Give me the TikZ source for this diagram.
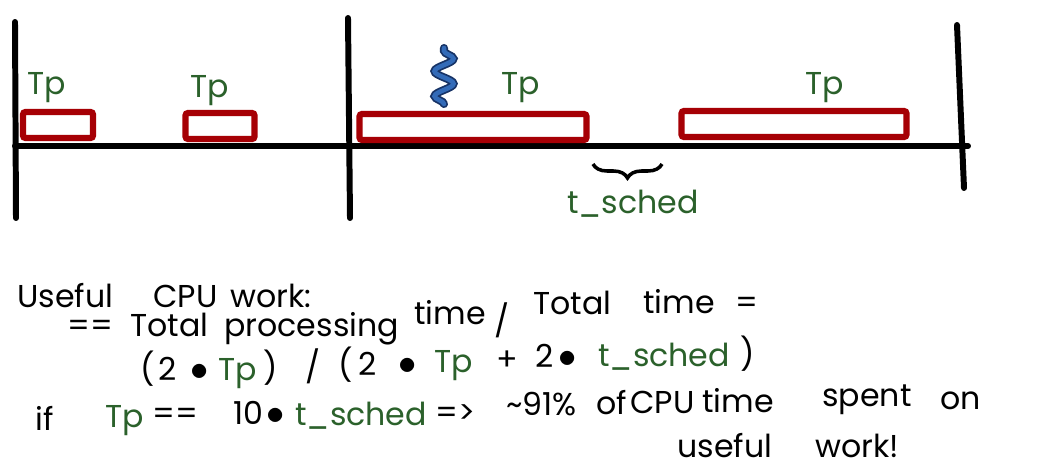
\documentclass[tikz,border=0pt]{standalone}
\usepackage{fontspec}
\setmainfont{Poppins}
\usetikzlibrary{decorations.pathmorphing,decorations.pathreplacing}
\definecolor{slotred}{rgb}{0.65,0.0,0.02}
\definecolor{tpgreen}{rgb}{0.17,0.38,0.17}
\definecolor{squigblue}{rgb}{0.20,0.42,0.72}
\definecolor{squigdark}{rgb}{0.09,0.20,0.40}

\begin{document}
\begin{tikzpicture}[x=0.02cm, y=-0.02cm,
      bar/.style={line width=3.4pt, line cap=round},
      slot/.style={draw=slotred, line width=3.6pt, rounded corners=1.5pt,
                   inner sep=0pt, minimum height=0.52cm},
      tplab/.style={text=tpgreen, inner sep=0pt,
                    font=\fontsize{18}{20}\selectfont},
      txt/.style={anchor=base west, inner sep=0pt,
                  font=\fontsize{18}{20}\selectfont},
      grn/.style={txt, text=tpgreen},
      dot/.style={txt, font=\fontsize{20}{22}\selectfont},
      squig/.style={draw=squigdark, line width=1pt, double=squigblue,
                    double distance=2.6pt, line cap=round, decorate,
                    decoration={snake, segment length=0.5cm, amplitude=0.19cm}},
      brc/.style={line width=2pt, decorate,
                  decoration={brace, mirror, amplitude=0.28cm}}
  ]
    \path[fill=white] (0,0) rectangle (1052,474);
    \useasboundingbox (0,0) rectangle (1052,474);

    % time line
    \coordinate (b1t) at (15,22);   \coordinate (b1b) at (16,218);
    \coordinate (b2t) at (348,18);  \coordinate (b2b) at (350,218);
    \coordinate (b3t) at (957,25);  \coordinate (b3b) at (964,188);
    \coordinate (ax0) at (15,146);  \coordinate (ax1) at (968,146);
    \draw[bar] (b1t) -- (b1b);
    \draw[bar] (b2t) -- (b2b);
    \draw[bar] (b3t) -- (b3b);
    \draw[bar] (ax0) -- (ax1);

    % processing slots
    \node[slot, minimum width=1.40cm] (p1) at (58,125)  {};
    \node[slot, minimum width=1.38cm] (p2) at (220,126) {};
    \node[slot, minimum width=4.54cm] (p3) at (473,127) {};
    \node[slot, minimum width=4.50cm] (p4) at (794,124) {};
    \node[tplab] (l1) at (47,88)  {Tp};
    \node[tplab] (l2) at (210,91) {Tp};
    \node[tplab] (l3) at (521,88) {Tp};
    \node[tplab] (l4) at (825,88) {Tp};

    % interrupt
    \coordinate (sq0) at (444,104); \coordinate (sq1) at (444,48);
    \draw[squig] (sq0) -- (sq1);

    % scheduling gap
    \coordinate (gapL) at (593,164); \coordinate (gapR) at (662,164);
    \draw[brc] (gapL) -- (gapR);
    \node[tplab] (ts) at (633,204) {t\_sched};

    % formula
    \node[txt] (u1) at (17,307)  {Useful};
    \node[txt] (u2) at (153,307) {CPU};
    \node[txt] (u3) at (230,307) {work:};

    \node[txt] (e1) at (67,336)  {==};
    \node[txt] (e2) at (130,336) {Total};
    \node[txt] (e3) at (224,336) {processing};
    \node[txt] (e4) at (414,324) {time};
    \node[txt] (e5) at (494,332) {/};
    \node[txt] (e6) at (533,314) {Total};
    \node[txt] (e7) at (643,313) {time};
    \node[txt] (e8) at (735,313) {=};

    \node[txt] (f1)  at (140,380) {(};
    \node[txt] (f2)  at (158,380) {2};
    \node[dot] (f3)  at (190,380) {$\bullet$};
    \node[grn] (f4)  at (218,380) {Tp};
    \node[txt] (f5)  at (263,379) {)};
    \node[txt] (f6)  at (305,378) {/};
    \node[txt] (f7)  at (338,376) {(};
    \node[txt] (f8)  at (358,375) {2};
    \node[dot] (f9)  at (398,374) {$\bullet$};
    \node[grn] (f10) at (434,372) {Tp};
    \node[txt] (f11) at (496,370) {+};
    \node[txt] (f12) at (535,367) {2};
    \node[dot] (f13) at (558,367) {$\bullet$};
    \node[grn] (f14) at (598,366) {t\_sched};
    \node[txt] (f15) at (740,365) {)};

    \node[txt] (g1)  at (35,430)  {if};
    \node[grn] (g2)  at (105,427) {Tp};
    \node[txt] (g3)  at (152,424) {==};
    \node[txt] (g4)  at (233,424) {10};
    \node[dot] (g5)  at (266,424) {$\bullet$};
    \node[grn] (g6)  at (295,425) {t\_sched};
    \node[txt] (g7)  at (435,423) {=>};
    \node[txt] (g8)  at (506,415) {\textasciitilde91\%};
    \node[txt] (g9)  at (596,414) {of};
    \node[txt] (g10) at (630,413) {CPU};
    \node[txt] (g11) at (702,412) {time};
    \node[txt] (g12) at (822,406) {spent};
    \node[txt] (g13) at (940,409) {on};

    \node[txt] (h1) at (677,457) {useful};
    \node[txt] (h2) at (815,457) {work!};
  \end{tikzpicture}
\end{document}
